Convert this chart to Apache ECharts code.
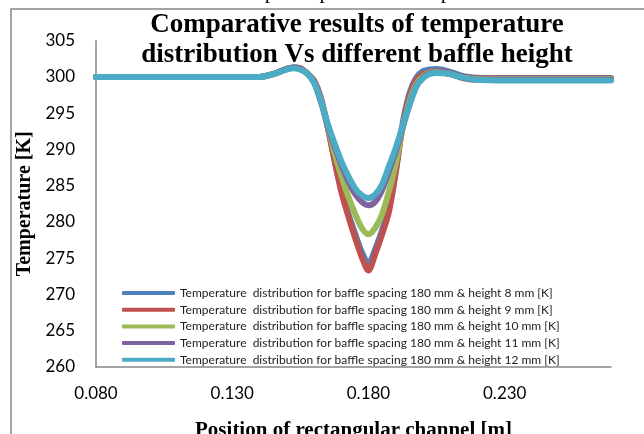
<!DOCTYPE html>
<html>
<head>
<meta charset="utf-8">
<script src="https://cdn.jsdelivr.net/npm/echarts@6/dist/echarts.min.js"></script>
<style>
html,body{margin:0;padding:0;background:#fff;}
#c{width:644px;height:434px;}
</style>
</head>
<body>
<div id="c"></div>
<script>
// Position along the rectangular channel [m]
const positions = [0.08, 0.10, 0.12, 0.13, 0.14, 0.145, 0.15, 0.1525, 0.155, 0.1575, 0.16, 0.1625, 0.165, 0.1675, 0.17, 0.1725, 0.175, 0.1775, 0.18, 0.1825, 0.185, 0.1875, 0.19, 0.1925, 0.195, 0.1975, 0.20, 0.2025, 0.205, 0.21, 0.215, 0.22, 0.23, 0.25, 0.269];
// Temperature [K] per baffle height
const h8  = [300, 300, 300, 300, 300.0, 300.4, 301.1, 301.3, 301.2, 300.5, 299.5, 297.2, 293.2, 288.7, 284.5, 281.3, 278.5, 275.9, 274.3, 276.3, 278.9, 282.0, 287.1, 293.5, 297.7, 299.9, 300.8, 301.05, 301.1, 300.7, 300.1, 299.9, 299.85, 299.85, 299.85];
const h9  = [300, 300, 300, 300, 300.0, 300.4, 301.1, 301.3, 301.2, 300.5, 299.5, 297.0, 293.1, 288.5, 284.2, 280.9, 277.9, 275.2, 273.3, 275.6, 278.3, 281.4, 286.8, 293.1, 297.3, 299.6, 300.4, 300.7, 300.8, 300.5, 300.0, 299.8, 299.8, 299.8, 299.8];
const h10 = [300, 300, 300, 300, 300.0, 300.4, 301.1, 301.3, 301.1, 300.5, 299.3, 296.8, 293.3, 289.6, 286.4, 283.6, 281.2, 279.2, 278.3, 279.2, 281.1, 284.2, 288.0, 292.9, 296.6, 299.0, 300.1, 300.6, 300.7, 300.4, 299.9, 299.7, 299.7, 299.7, 299.7];
const h11 = [300, 300, 300, 300, 300.0, 300.4, 301.1, 301.3, 301.1, 300.5, 299.3, 296.6, 293.4, 290.5, 287.9, 285.7, 283.9, 282.8, 282.3, 282.8, 284.4, 287.0, 289.7, 293.0, 296.1, 298.7, 299.9, 300.5, 300.6, 300.4, 299.8, 299.6, 299.6, 299.6, 299.6];
const h12 = [300, 300, 300, 300, 300.0, 300.4, 301.0, 301.2, 301.0, 300.5, 299.2, 296.7, 293.6, 290.9, 288.4, 286.4, 284.7, 283.7, 283.3, 283.8, 285.2, 287.7, 290.2, 293.2, 296.1, 298.6, 299.8, 300.4, 300.55, 300.4, 299.9, 299.6, 299.5, 299.5, 299.5];

const seriesNames = [
  'Temperature  distribution for baffle spacing 180 mm & height 8 mm [K]',
  'Temperature  distribution for baffle spacing 180 mm & height 9 mm [K]',
  'Temperature  distribution for baffle spacing 180 mm & height 10 mm [K]',
  'Temperature  distribution for baffle spacing 180 mm & height 11 mm [K]',
  'Temperature  distribution for baffle spacing 180 mm & height 12 mm [K]'
];
const seriesValues = [h8, h9, h10, h11, h12];
const colors = ['#4F81BD', '#C0504D', '#9BBB59', '#8064A2', '#4BACC6'];

const chart = echarts.init(document.getElementById('c'), null, {renderer: 'canvas'});
const series = seriesNames.map((name, i) => ({
  name: name,
  type: 'line',
  data: positions.map((x, j) => [x, seriesValues[i][j]]),
  showSymbol: false,
  symbol: 'none',
  smooth: 0.3,
  lineStyle: {width: 6, color: colors[i], cap: 'round', join: 'round'},
  itemStyle: {color: colors[i]},
  z: 2 + i
}));

chart.setOption({
  animation: false,
  backgroundColor: '#fff',
  color: colors,
  title: {
    text: 'Comparative results of temperature\ndistribution Vs different baffle height',
    left: 352, top: 5, textAlign: 'center',
    textStyle: {fontFamily: 'Liberation Serif', fontWeight: 'bold', fontSize: 27, lineHeight: 30, color: '#000'}
  },
  graphic: [
    {type: 'rect', shape: {x: 11, y: 9, width: 700, height: 500}, style: {fill: 'none', stroke: '#868686', lineWidth: 1.5}, z: -1},
    {type: 'text', left: 116, top: -19, style: {text: 'e obstacle which participates in the separation of the flow a', font: '21.5px "Liberation Serif"', fill: '#000'}}
  ],
  grid: {left: 96, right: 33, top: 40.7, bottom: 67, containLabel: false, outerBoundsMode: 'none'},
  legend: {
    orient: 'vertical', left: 122, top: 287, padding: 0,
    itemWidth: 53, itemHeight: 4, itemGap: 4.7, icon: 'roundRect',
    textStyle: {fontFamily: 'Lato', fontSize: 12, lineHeight: 12, color: '#222'},
    data: seriesNames
  },
  xAxis: {
    type: 'value', min: 0.08, max: 0.269, interval: 0.05,
    name: 'Position of rectangular channel [m]', nameLocation: 'middle', nameGap: 53,
    nameTextStyle: {fontFamily: 'Liberation Serif', fontWeight: 'bold', fontSize: 21, color: '#000'},
    axisLine: {show: true, lineStyle: {color: '#868686', width: 1.5}},
    axisTick: {show: false},
    splitLine: {show: false},
    axisLabel: {showMaxLabel: false, margin: 18, fontFamily: 'Lato', fontSize: 17, color: '#000',
      formatter: v => v.toFixed(3)}
  },
  yAxis: {
    type: 'value', min: 260, max: 305, interval: 5,
    name: 'Temperature [K]', nameLocation: 'middle', nameGap: 48, nameRotate: 90,
    nameTextStyle: {fontFamily: 'Liberation Serif', fontWeight: 'bold', fontSize: 20, color: '#000'},
    axisLine: {show: true, lineStyle: {color: '#868686', width: 1.5}},
    axisTick: {show: false},
    splitLine: {show: false},
    axisLabel: {margin: 21, fontFamily: 'Lato', fontSize: 17, color: '#000'}
  },
  series: series
});
</script>
</body>
</html>
